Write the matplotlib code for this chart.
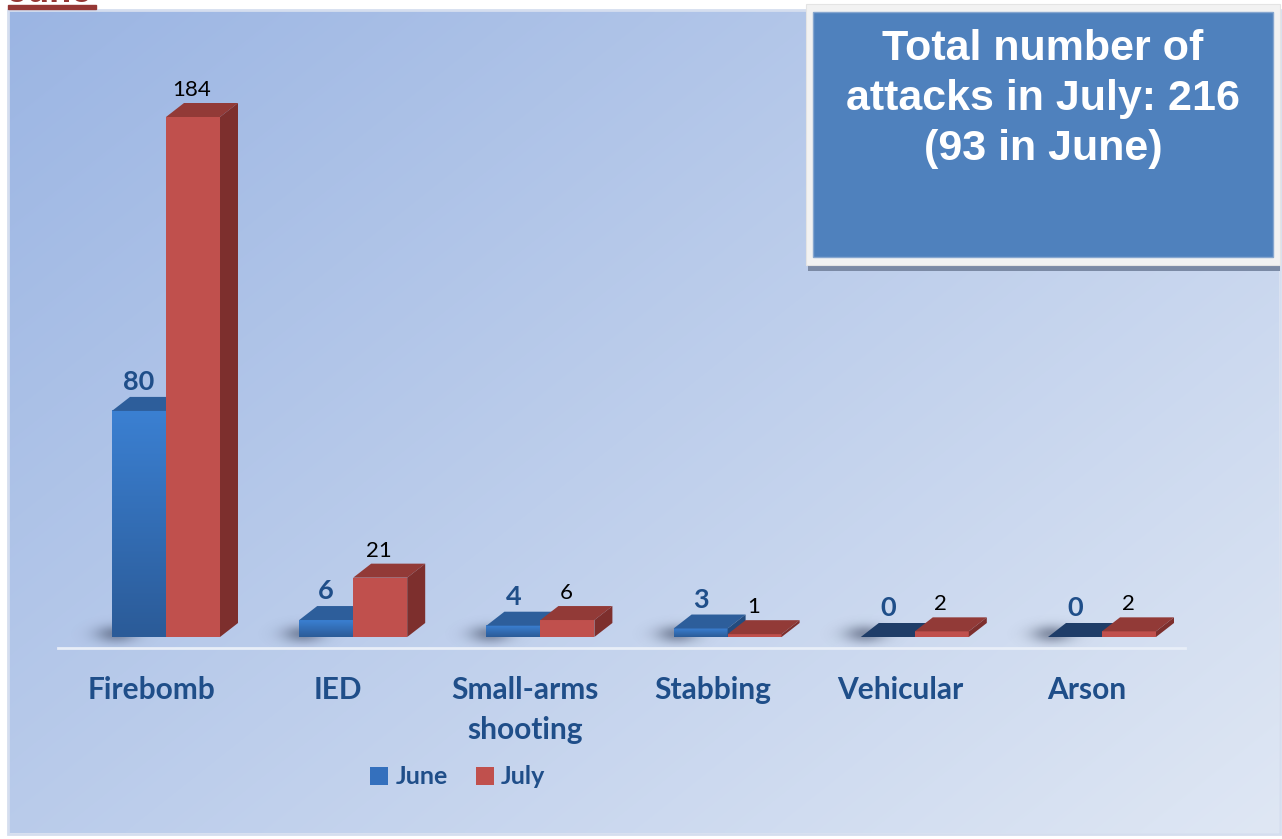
import numpy as np
import matplotlib
matplotlib.use('Agg')
import matplotlib.pyplot as plt
from matplotlib.patches import Polygon, Rectangle, Patch
from matplotlib.colors import to_rgb
import matplotlib.transforms as mtransforms

# ---------------- data ----------------
categories = ['Firebomb', 'IED', 'Small-arms\nshooting', 'Stabbing', 'Vehicular', 'Arson']
june = [80, 6, 4, 3, 0, 0]
july = [184, 21, 6, 1, 2, 2]
series_names = ['June', 'July']
box_text = 'Total number of\nattacks in July: 216\n(93 in June)'
corner_title = 'June'

# ---------------- layout / style constants ----------------
W, H, DPI = 1282, 839, 100
LABEL_BLUE = '#1f4e89'
RED_FRONT, RED_TOP, RED_SIDE = '#c0504d', '#923a37', '#7d2f2d'
BLUE_TOP, BLUE_SIDE, BLUE_ZERO_TOP = '#2d5e9b', '#234b7e', '#1f3d68'
BLUE_GRAD_TOP, BLUE_GRAD_BOT = '#3b80d2', '#2b5b98'

fig = plt.figure(figsize=(W / DPI, H / DPI), dpi=DPI)
fig.patch.set_facecolor('white')

# ---------- background (pixel coordinate axes) ----------
bg = fig.add_axes([0, 0, 1, 1])
bg.set_xlim(0, W)
bg.set_ylim(H, 0)
bg.axis('off')
gx, gy = np.meshgrid(np.linspace(0, 1, 300), np.linspace(0, 1, 300))
t = gx * 0.55 + gy * 0.45
c0 = np.array(to_rgb('#9bb5e3'))
c1 = np.array(to_rgb('#dfe7f4'))
bg.imshow(c0 + (c1 - c0) * t[..., None], extent=[9, 1279, 833, 11],
          aspect='auto', interpolation='bilinear', zorder=0)
bg.add_patch(Rectangle((8, 10), 1272, 824, fill=False, ec='#d5deef', lw=2, zorder=1))

# corner title (cut off at top, as in the source)
bg.text(8, 2, corner_title, color='#953735', fontsize=26, fontweight='bold',
        family='Liberation Sans', ha='left', va='baseline', zorder=2)
bg.add_patch(Rectangle((8, 5), 88, 4, color='#953735', zorder=2))

# text box
bg.add_patch(Rectangle((808, 262), 472, 9, fc='#7b8aa5', ec='none', zorder=3))
bg.add_patch(Rectangle((806, 4), 474, 261, fc='#f2f2f2', ec='#e4e4e4', lw=0.8, zorder=4))
bg.add_patch(Rectangle((813, 12), 460, 245, fc='#4f81bd', ec='#86a6cf', lw=1, zorder=5))
bg.text(1043, 99, box_text, color='white', fontsize=31, fontweight='bold',
        family='Liberation Sans', ha='center', va='center', linespacing=1.31, zorder=6)

# ---------- bar axes ----------
ax_left_px, ax_right_px = 58, 1185
ax_top_px, ax_bot_px = 20, 648
x0_px, step_px = 166, 187.2
base_px, ref_top_px, ref_val = 637, 117, 184
ppy = (base_px - ref_top_px) / ref_val

ax = fig.add_axes([ax_left_px / W, 1 - ax_bot_px / H,
                   (ax_right_px - ax_left_px) / W, (ax_bot_px - ax_top_px) / H])
ax.patch.set_alpha(0)
xlim = ((ax_left_px - x0_px) / step_px, (ax_right_px - x0_px) / step_px)
ylim = (-(ax_bot_px - base_px) / ppy, (base_px - ax_top_px) / ppy)

bw = 54 / step_px
ddx = 18 / step_px
ddy = 14 / ppy

for s in ['top', 'left', 'right']:
    ax.spines[s].set_visible(False)
ax.spines['bottom'].set_color('#e8eef8')
ax.spines['bottom'].set_linewidth(2)
ax.set_yticks([])
x = np.arange(len(categories))
ax.set_xticks(x)
ax.set_xticklabels(categories, fontsize=21.5, fontweight='bold', family='Lato',
                   color=LABEL_BLUE, linespacing=1.48)
ax.tick_params(axis='x', length=0, pad=20.5)
for lab in ax.get_xticklabels():
    lab.set_transform(lab.get_transform() +
                      mtransforms.ScaledTranslation(-15 / DPI, 0, fig.dpi_scale_trans))

grad = np.linspace(0, 1, 100)[:, None]
gc0, gc1 = np.array(to_rgb(BLUE_GRAD_TOP)), np.array(to_rgb(BLUE_GRAD_BOT))
grad_img = (gc0 + (gc1 - gc0) * grad[..., None]) * np.ones((1, 2, 1))


def shadow(xl, z):
    nx, ny = 80, 40
    ex = [xl - 0.3, xl + 0.35, -5, 9]
    sx = np.linspace(ex[0], ex[1], nx)
    sy = np.linspace(ex[3], ex[2], ny)
    SX, SY = np.meshgrid(sx, sy)
    a = 0.5 * np.exp(-((SX - (xl + 0.02)) / 0.11) ** 2 - ((SY - 1.0) / 3.2) ** 2)
    rgba = np.zeros((ny, nx, 4))
    rgba[..., 0], rgba[..., 1], rgba[..., 2] = 0.22, 0.26, 0.36
    rgba[..., 3] = a
    ax.imshow(rgba, extent=ex, aspect='auto', interpolation='bilinear', zorder=z)


def bar3d(xl, h, front, top, side, z, gradient=False):
    if h > 0:
        if gradient:
            ax.imshow(grad_img, extent=[xl, xl + bw, 0, h], aspect='auto',
                      interpolation='bilinear', zorder=z)
        else:
            ax.add_patch(Rectangle((xl, 0), bw, h, fc=front, ec='none', zorder=z))
    ax.add_patch(Polygon([(xl, h), (xl + bw, h), (xl + bw + ddx, h + ddy), (xl + ddx, h + ddy)],
                         closed=True, fc=top, ec='none', zorder=z + 0.1))
    ax.add_patch(Polygon([(xl + bw, 0), (xl + bw + ddx, ddy), (xl + bw + ddx, h + ddy), (xl + bw, h)],
                         closed=True, fc=side, ec='none', zorder=z + 0.1))


for i, (vj, vl) in enumerate(zip(june, july)):
    shadow(i - bw, 1)
    bar3d(i - bw, vj, None, BLUE_TOP if vj > 0 else BLUE_ZERO_TOP, BLUE_SIDE, 2, gradient=True)
    bar3d(i, vl, RED_FRONT, RED_TOP, RED_SIDE, 3)
    ax.annotate(str(vj), (i - bw / 2, vj), xytext=(0, 29), textcoords='offset pixels',
                ha='center', va='center', fontsize=19.5, fontweight='bold', family='Lato',
                color=LABEL_BLUE, zorder=5)
    ax.annotate(str(vl), (i + bw / 2, vl), xytext=(-1, 27), textcoords='offset pixels',
                ha='center', va='center', fontsize=16, family='Lato',
                color='black', zorder=5)

ax.set_xlim(*xlim)
ax.set_ylim(*ylim)

# legend
handles = [Patch(fc='#3470bd', ec='none'), Patch(fc=RED_FRONT, ec='none')]
leg = fig.legend(handles, series_names, loc='center', bbox_to_anchor=(458 / W, 1 - 777 / H),
                 ncol=2, frameon=False, handlelength=0.72, handleheight=0.72,
                 handletextpad=0.3, columnspacing=1.1,
                 prop={'family': 'Lato', 'weight': 'bold', 'size': 18})
for txt in leg.get_texts():
    txt.set_color(LABEL_BLUE)

fig.savefig('out.png', dpi=DPI)
